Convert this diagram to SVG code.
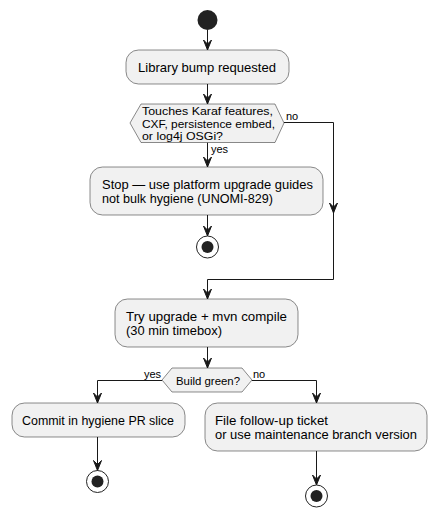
<svg xmlns="http://www.w3.org/2000/svg" xmlns:xlink="http://www.w3.org/1999/xlink" width="437" height="516" viewBox="0 0 437 516">
<style>
.box{fill:#F1F1F1;stroke:#181818;stroke-width:0.5}
.ln{fill:none;stroke:#181818;stroke-width:1}
.ah{fill:#181818;stroke:#181818;stroke-width:1}
.t{font-family:"Liberation Sans",Arial,sans-serif;font-size:13px;fill:#000}
.td{font-family:"Liberation Sans",Arial,sans-serif;font-size:11px;fill:#000}
.tl{font-family:"Liberation Sans",Arial,sans-serif;font-size:11px;fill:#000}
.start{fill:#222222}
.endo{fill:none;stroke:#222222;stroke-width:1}
.endi{fill:#222222}
</style>
<defs>
<path id="ah" class="ah" d="M0,0 L-4,-10 L0,-6 L4,-10 Z"/>
</defs>
<rect width="437" height="516" fill="#FFFFFF"/>
<g id="connectors">
<path class="ln" d="M207.5,30 V50"/><use xlink:href="#ah" href="#ah" x="207.5" y="50"/>
<path class="ln" d="M207.5,84 V104"/><use xlink:href="#ah" href="#ah" x="207.5" y="104"/>
<path class="ln" d="M207.5,142.5 V167"/><use xlink:href="#ah" href="#ah" x="207.5" y="167"/>
<text class="tl" x="211" y="153">yes</text>
<path class="ln" d="M284,122.5 H333.5 V279.5 H207.5 V299"/>
<use xlink:href="#ah" href="#ah" x="333.5" y="213"/>
<use xlink:href="#ah" href="#ah" x="207.5" y="299"/>
<text class="tl" x="286" y="120">no</text>
<path class="ln" d="M207.5,215 V236"/><use xlink:href="#ah" href="#ah" x="207.5" y="236"/>
<path class="ln" d="M207.5,347 V368"/><use xlink:href="#ah" href="#ah" x="207.5" y="368"/>
<path class="ln" d="M162,380.5 H97.5 V403"/><use xlink:href="#ah" href="#ah" x="97.5" y="403"/>
<text class="tl" x="144" y="377.5">yes</text>
<path class="ln" d="M252,380.5 H316.5 V403"/><use xlink:href="#ah" href="#ah" x="316.5" y="403"/>
<text class="tl" x="253" y="377.5">no</text>
<path class="ln" d="M97.5,437 V470.5"/><use xlink:href="#ah" href="#ah" x="97.5" y="470.5"/>
<path class="ln" d="M316.5,451 V485"/><use xlink:href="#ah" href="#ah" x="316.5" y="485"/>
</g>
<g id="start"><circle class="start" cx="207.5" cy="20" r="10"/></g>
<g id="bump">
<rect class="box" x="126" y="50" width="163" height="34" rx="12.5" ry="12.5"/>
<text class="t" x="138" y="71.5" textLength="138" lengthAdjust="spacingAndGlyphs">Library bump requested</text>
</g>
<g id="touches">
<polygon class="box" points="130,123 141,104 275,104 284,123 275,142.5 141,142.5"/>
<text class="td" x="142" y="115" textLength="131" lengthAdjust="spacingAndGlyphs">Touches Karaf features,</text>
<text class="td" x="142" y="127.5" textLength="133" lengthAdjust="spacingAndGlyphs">CXF, persistence embed,</text>
<text class="td" x="142" y="139.5" textLength="81" lengthAdjust="spacingAndGlyphs">or log4j OSGi?</text>
</g>
<g id="stopbox">
<rect class="box" x="90" y="167" width="233" height="48" rx="12.5" ry="12.5"/>
<text class="t" x="102" y="188.5" textLength="211" lengthAdjust="spacingAndGlyphs">Stop — use platform upgrade guides</text>
<text class="t" x="102" y="202.5" textLength="171" lengthAdjust="spacingAndGlyphs">not bulk hygiene (UNOMI-829)</text>
</g>
<g id="end1"><circle class="endo" cx="207.5" cy="247" r="11"/><circle class="endi" cx="207.5" cy="247" r="6"/></g>
<g id="try">
<rect class="box" x="115" y="299" width="183" height="48" rx="12.5" ry="12.5"/>
<text class="t" x="126" y="320.5" textLength="161" lengthAdjust="spacingAndGlyphs">Try upgrade + mvn compile</text>
<text class="t" x="126" y="334.5" textLength="96" lengthAdjust="spacingAndGlyphs">(30 min timebox)</text>
</g>
<g id="green">
<polygon class="box" points="162,380 172,368 242,368 252,380 242,392 172,392"/>
<text class="td" x="176" y="384.5" textLength="64" lengthAdjust="spacingAndGlyphs">Build green?</text>
</g>
<g id="commit">
<rect class="box" x="12" y="403" width="173" height="34" rx="12.5" ry="12.5"/>
<text class="t" x="22" y="424.5" textLength="152" lengthAdjust="spacingAndGlyphs">Commit in hygiene PR slice</text>
</g>
<g id="file">
<rect class="box" x="205" y="403" width="222" height="48" rx="12.5" ry="12.5"/>
<text class="t" x="215" y="424.5" textLength="113" lengthAdjust="spacingAndGlyphs">File follow-up ticket</text>
<text class="t" x="215" y="438.5" textLength="202" lengthAdjust="spacingAndGlyphs">or use maintenance branch version</text>
</g>
<g id="end2"><circle class="endo" cx="97.5" cy="481.5" r="11"/><circle class="endi" cx="97.5" cy="481.5" r="6"/></g>
<g id="end3"><circle class="endo" cx="316.5" cy="496" r="11"/><circle class="endi" cx="316.5" cy="496" r="6"/></g>
</svg>
